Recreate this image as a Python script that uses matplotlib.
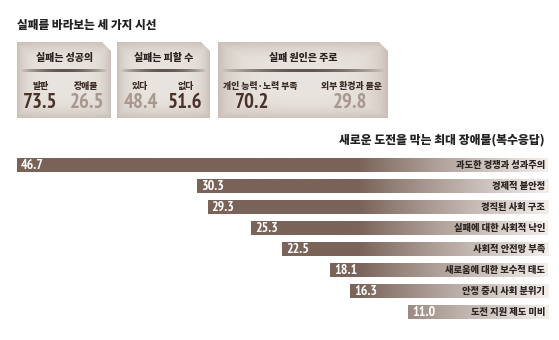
import numpy as np
import matplotlib
matplotlib.use("Agg")
import matplotlib.pyplot as plt
from matplotlib.patches import Polygon
from matplotlib.colors import to_rgb

plt.rcParams['font.family'] = ['Noto Sans CJK JP', 'DejaVu Sans']
NUM_FONT = ['PT Sans Narrow', 'Liberation Sans', 'DejaVu Sans']
W = 'heavy'

# 실패를 바라보는 세 가지 시선
panel_titles = ['실패는 성공의', '실패는 피할 수', '실패 원인은 주로']
panel_labels = [['발판', '장애물'], ['있다', '없다'], ['개인 능력·노력 부족', '외부 환경과 불운']]
panel_values = [[73.5, 26.5], [48.4, 51.6], [70.2, 29.8]]

# 새로운 도전을 막는 최대 장애물(복수응답)
obstacles = ['과도한 경쟁과 성과주의', '경제적 불안정', '경직된 사회 구조', '실패에 대한 사회적 낙인',
             '사회적 안전망 부족', '새로움에 대한 보수적 태도', '안정 중시 사회 분위기', '도전 지원 제도 미비']
obstacle_values = [46.7, 30.3, 29.3, 25.3, 22.5, 18.1, 16.3, 11.0]

DARK = np.array(to_rgb('#7a6359'))
LIGHT = np.array(to_rgb('#f3efec'))
VAL_DARK = '#4a3129'
VAL_LIGHT = '#a8978e'

fig = plt.figure(figsize=(5.59, 3.40), dpi=100)
fig.patch.set_facecolor('white')

# 전체 배경용 축 (픽셀 좌표)
bg = fig.add_axes([0, 0, 1, 1])
bg.set_xlim(0, 559)
bg.set_ylim(340, 0)
bg.axis('off')

bg.text(17, 25, '실패를 바라보는 세 가지 시선', fontsize=8.4, fontweight=W,
        color='#222222', ha='left', va='center')

# 상단 카드 세 개
boxes = [(17, 111), (117, 210), (218, 388)]
top, bottom, cut = 42, 118, 9
label_x = [(41, 86), (140, 186), (260, 351)]
value_x = [(40, 87), (141, 185), (252, 350)]
value_colors = [(VAL_DARK, VAL_LIGHT), (VAL_LIGHT, VAL_DARK), (VAL_DARK, VAL_LIGHT)]

for k, (x0, x1) in enumerate(boxes):
    poly = Polygon([(x0, top), (x1 - cut, top), (x1, top + cut), (x1, bottom), (x0, bottom)],
                   closed=True, facecolor='none', edgecolor='none')
    bg.add_patch(poly)
    # 가장자리가 어두운 카드 배경
    w, h = 120, 60
    gx = np.linspace(-1, 1, w)
    gy = np.linspace(-1, 1, h)
    X, Y = np.meshgrid(gx, gy)
    d = np.clip(np.maximum(np.abs(X) ** 6, np.abs(Y) ** 4) * 0.8 + (np.abs(X) ** 2) * 0.15, 0, 1)
    c_in = np.array(to_rgb('#e9e4df'))
    c_out = np.array(to_rgb('#c9beb6'))
    img = c_in[None, None, :] * (1 - d[..., None]) + c_out[None, None, :] * d[..., None]
    im = bg.imshow(img, extent=(x0, x1, bottom, top), aspect='auto', zorder=1)
    im.set_clip_path(poly)

    cx = (x0 + x1) / 2
    bg.text(cx, 58, panel_titles[k], fontsize=7.2, fontweight=W, color='#2a2220',
            ha='center', va='center', zorder=3)

    # 제목 아래 구분선 (양끝이 흐려짐)
    n = 200
    alpha = np.sin(np.linspace(0, np.pi, n)) ** 0.7
    line = np.zeros((1, n, 4))
    line[..., :3] = to_rgb('#5e5550')
    line[0, :, 3] = alpha
    bg.imshow(line, extent=(x0 + 4, x1 - 4, 72.2, 69.8), aspect='auto', zorder=2)

    for j in range(2):
        bg.text(label_x[k][j], 86, panel_labels[k][j], fontsize=6.4, fontweight=W,
                color='#3b2c25', ha='center', va='center', zorder=3)
        bg.text(value_x[k][j], 102, f'{panel_values[k][j]:.1f}', fontsize=15,
                fontweight='bold', family=NUM_FONT, color=value_colors[k][j],
                ha='center', va='center', zorder=3)

bg.set_xlim(0, 559)
bg.set_ylim(340, 0)

bg.text(545, 140, '새로운 도전을 막는 최대 장애물(복수응답)', fontsize=8.5, fontweight=W,
        color='#222222', ha='right', va='center')

# 막대 그래프
pad = 1.8
ax = fig.add_axes([17 / 559, 1 - 322.5 / 340, (548 - 17) / 559, 168 / 340])
ax.axis('off')
y = np.arange(len(obstacles))
vals = np.array(obstacle_values)
bars = ax.barh(y, vals + pad, left=-pad, height=0.7, color=DARK, edgecolor='none')
xmax = vals.max()
ax.set_xlim(xmax, -pad)
ax.set_ylim(len(obstacles) - 0.5, -0.5)

# 오른쪽으로 갈수록 밝아지는 그라데이션
xs = np.linspace(xmax, -pad, 400)
t = np.clip((15.5 - xs) / (15.5 + pad), 0, 1) ** 0.95
grad = DARK[None, :] * (1 - t[:, None]) + LIGHT[None, :] * t[:, None]
grad = grad[None, :, :]
for bar in bars:
    im = ax.imshow(grad, extent=(xmax, -pad, len(obstacles) - 0.5, -0.5), aspect='auto', zorder=2)
    im.set_clip_path(bar)
ax.set_xlim(xmax, -pad)
ax.set_ylim(len(obstacles) - 0.5, -0.5)

for i, (v, name) in enumerate(zip(vals, obstacles)):
    ax.annotate(f'{v:.1f}', (v, i), xytext=(3, -0.3), textcoords='offset points',
                ha='left', va='center', color='white', fontsize=10, fontweight='bold',
                family=NUM_FONT, zorder=3)
    ax.annotate(name, (-pad, i), xytext=(-2, 0), textcoords='offset points',
                ha='right', va='center', color='#2e2623', fontsize=6.7, fontweight=W, zorder=3)

fig.savefig('out.png', dpi=100, facecolor='white')
